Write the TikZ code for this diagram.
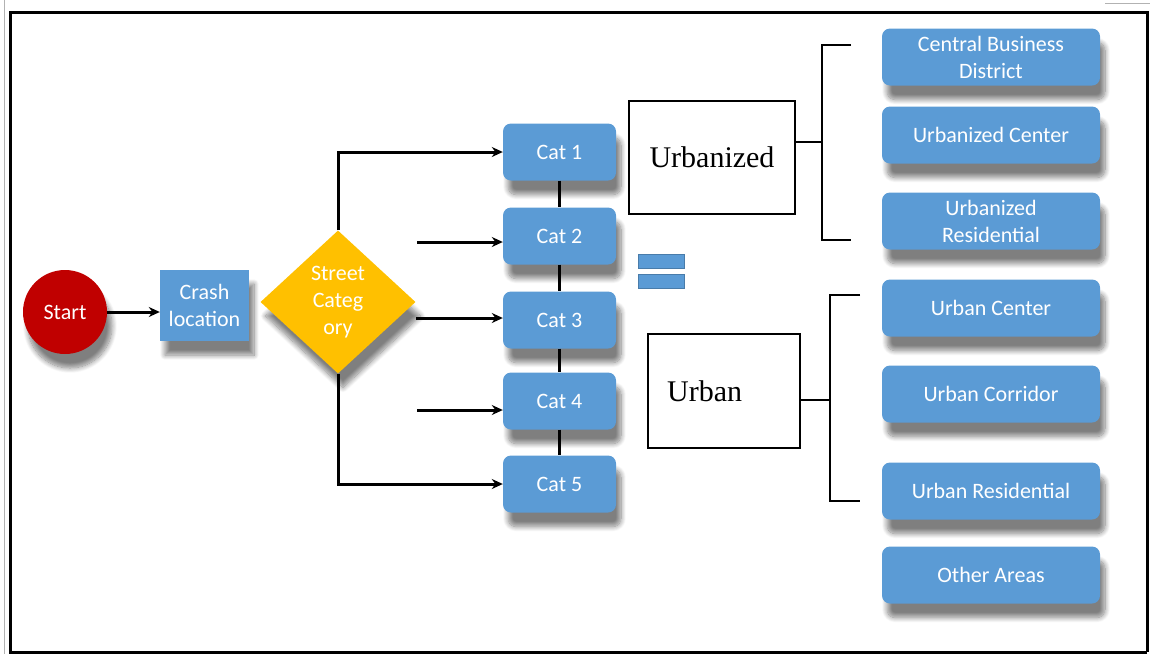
\documentclass[tikz,border=0pt]{standalone}
\usepackage{fontspec}
\setmainfont{Liberation Serif}
\newfontfamily\boxfont{Carlito}
\usetikzlibrary{arrows.meta,shapes.geometric,shadows.blur,positioning}
\definecolor{boxblue}{HTML}{5B9BD5}
\definecolor{startred}{HTML}{C00000}
\definecolor{diagold}{HTML}{FFC000}

\begin{document}
\begin{tikzpicture}[
        x=1pt, y=-1pt,
        every node/.style={inner sep=0pt, align=center},
        shade/.style={blur shadow={shadow xshift=5pt, shadow yshift=-14pt, shadow opacity=50, shadow blur steps=10, shadow blur radius=5pt}},
        flowbox/.style={fill=boxblue, text=white, shade, font=\boxfont\fontsize{22}{27}\selectfont},
        catbox/.style={flowbox, rounded corners=8pt, minimum width=113pt, minimum height=57pt},
        areabox/.style={flowbox, rounded corners=8pt, minimum width=218pt, minimum height=57pt},
        groupbox/.style={draw, line width=2.2pt, fill=white, font=\fontsize{30}{34}\selectfont},
        ar/.style={-{Stealth[length=11pt, width=10pt]}, line width=3pt},
        ln/.style={line width=2.5pt},
    ]
    \useasboundingbox (0,0) rectangle (1150,654);
    \draw[gray!60, line width=1pt] (4,0) -- (4,654) (1105,3) -- (1150,3);
    \draw[line width=3pt] (1147,652) -- (10,652) -- (10,12) -- (1147,12) -- (1147,652);

    % left part
    \node[circle, fill=startred, text=white, shade, minimum size=84pt, font=\boxfont\fontsize{22}{27}\selectfont](start) at (65,312) {Start};
    \node[flowbox, minimum width=89pt, minimum height=71pt](crash) at (204.5,305.5) {Crash\\location};
    \node[diamond, fill=diagold, text=white, shade, minimum width=155pt, minimum height=143pt, font=\boxfont\fontsize{22}{27}\selectfont](street) at (338,302) {Street\\Categ\\ory};

    % categories
    \node[catbox](cat1) at (559.5,152) {Cat 1};
    \node[catbox](cat2) at (559.5,236) {Cat 2};
    \node[catbox](cat3) at (559.5,320) {Cat 3};
    \node[catbox](cat4) at (559.5,401) {Cat 4};
    \node[catbox](cat5) at (559.5,484) {Cat 5};

    \coordinate (in2) at (417,242);
    \coordinate (in3) at (416,318);
    \coordinate (in4) at (417,410);

    \path[ar]
    (start) edge (start -| crash.west)
    (in2) edge (in2 -| cat2.west)
    (in3) edge (in3 -| cat3.west)
    (in4) edge (in4 -| cat4.west)
    ;
    \draw[ar] (street.north) |- (cat1.west);
    \draw[ar] (street.south) |- (cat5.west);
    \draw[ln] (cat1) -- (cat2) (cat2) -- (cat3) (cat3) -- (cat4) (cat4) -- (cat5);

    % equals sign
    \node[fill=boxblue, draw=boxblue!80!black, minimum width=46pt, minimum height=14pt](eqtop) at (661,261) {};
    \node[fill=boxblue, draw=boxblue!80!black, minimum width=46pt, minimum height=14pt](eqbot) at (661,281) {};

    % groups
    \node[groupbox, minimum width=166pt, minimum height=113pt](urbz) at (712,157.5) {Urbanized};
    \node[groupbox, minimum width=152pt, minimum height=114pt](urb) at (724,391) {};
    \node[anchor=west, font=\fontsize{30}{34}\selectfont](urbtext) at (667,391) {Urban};

    % brackets
    \coordinate (b1t) at (851,45);
    \coordinate (b1m) at (822,142);
    \coordinate (b1b) at (851,240);
    \coordinate (b2t) at (860,295);
    \coordinate (b2m) at (830,400);
    \coordinate (b2b) at (860,501);
    \draw[ln] (b1t) -| (b1m) |- (b1b);
    \draw[ln] (urbz.east |- b1m) -- (b1m);
    \draw[ln] (b2t) -| (b2m) |- (b2b);
    \draw[ln] (urb.east |- b2m) -- (b2m);

    % area types
    \node[areabox](cbd) at (991,57) {Central Business\\District};
    \node[areabox](uzc) at (991,135) {Urbanized Center};
    \node[areabox](uzr) at (991,221) {Urbanized\\Residential};
    \node[areabox](ubc) at (991,308) {Urban Center};
    \node[areabox](ubk) at (991,394) {Urban Corridor};
    \node[areabox](ubr) at (991,491) {Urban Residential};
    \node[areabox](oth) at (991,575) {Other Areas};
\end{tikzpicture}
\end{document}
